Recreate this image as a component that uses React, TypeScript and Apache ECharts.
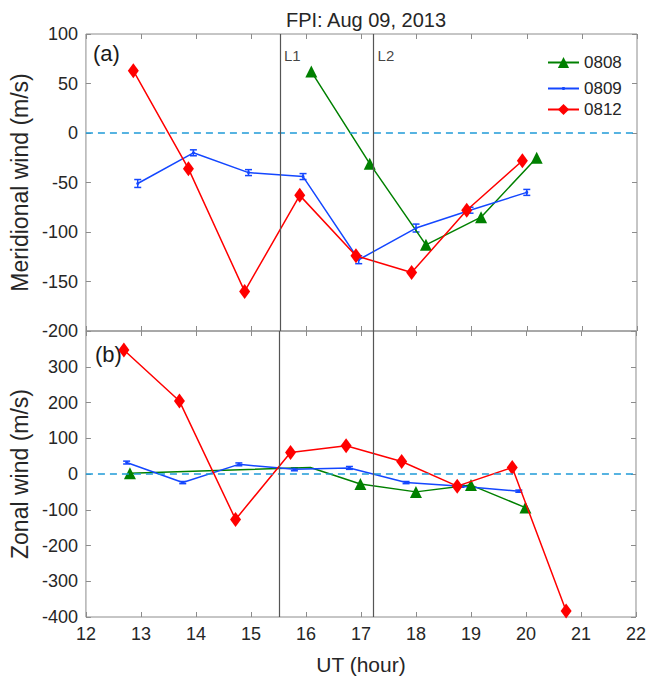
import React, { useEffect, useRef } from "react";
import * as echarts from "echarts";

// ---- Data ----
const xTicks = [12, 13, 14, 15, 16, 17, 18, 19, 20, 21, 22];
const L1 = 15.52;
const L2 = 17.22;

// (a) Meridional wind
const merX0808 = [16.09, 17.15, 18.17, 19.17, 20.18];
const mer0808 = [62, -31, -113, -85, -25];
const merX0809 = [12.94, 13.95, 14.95, 15.94, 16.95, 17.99, 18.97, 20.0];
const mer0809 = [-51, -20, -40, -44, -128, -96, -78, -60];
const merErr0809 = [4, 3, 3, 3, 4, 4, 3, 3];
const merX0812 = [12.86, 13.86, 14.88, 15.88, 16.9, 17.91, 18.91, 19.92];
const mer0812 = [63, -36, -160, -63, -124, -141, -78, -28];

// (b) Zonal wind
const zonX0808 = [12.8, 16.08, 16.99, 18.0, 19.0, 19.99];
const zon0808 = [2, 18, -28, -50, -31, -94];
const zonX0809 = [12.74, 13.76, 14.78, 15.79, 16.79, 17.82, 18.82, 19.87];
const zon0809 = [32, -24, 27, 13, 17, -24, -34, -48];
const zonErr0809 = [4, 3, 4, 4, 4, 3, 3, 3];
const zonX0812 = [12.69, 13.7, 14.72, 15.72, 16.73, 17.74, 18.75, 19.75, 20.73];
const zon0812 = [347, 204, -127, 60, 79, 35, -34, 18, -383];

const names = ["0808", "0809", "0812"];

const GREEN = "#008000";
const BLUE = "#1447ff";
const RED = "#ff0000";
const AXIS = "#8c8c8c";
const TXT = "#262626";
const FONT = "'Liberation Sans', Arial, sans-serif";

const zip = (xs: number[], ys: number[]) => xs.map((x, i) => [x, ys[i]]);
const zip3 = (xs: number[], ys: number[], es: number[]) =>
  xs.map((x, i) => [x, ys[i], es[i]]);

function errRender(color: string) {
  return (params: any, api: any) => {
    const x = api.value(0);
    const y = api.value(1);
    const e = api.value(2);
    const lo = api.coord([x, y - e]);
    const hi = api.coord([x, y + e]);
    const w = 3.5;
    const st = { stroke: color, lineWidth: 1.5 };
    return {
      type: "group",
      children: [
        { type: "line", shape: { x1: lo[0], y1: lo[1], x2: hi[0], y2: hi[1] }, style: st },
        { type: "line", shape: { x1: lo[0] - w, y1: lo[1], x2: lo[0] + w, y2: lo[1] }, style: st },
        { type: "line", shape: { x1: hi[0] - w, y1: hi[1], x2: hi[0] + w, y2: hi[1] }, style: st },
      ],
    };
  };
}

export default function App() {
  const ref = useRef<HTMLDivElement>(null);
  useEffect(() => {
    if (!ref.current) return;
    const chart = echarts.init(ref.current, undefined, { renderer: "svg" });

    const mkX = (grid: number, pos: "bottom" | "top", labels: boolean) => ({
      type: "value",
      gridIndex: grid,
      position: pos,
      min: 12,
      max: 22,
      interval: 1,
      axisLine: { show: false, onZero: false },
      axisTick: { show: true, inside: true, length: 5, lineStyle: { color: AXIS } },
      axisLabel: {
        show: labels,
        color: TXT,
        fontSize: 18,
        fontFamily: FONT,
        margin: 8,
      },
      splitLine: { show: false },
      ...(labels
        ? {
            name: "UT (hour)",
            nameLocation: "middle",
            nameGap: 37,
            nameTextStyle: { color: TXT, fontSize: 21, fontFamily: FONT },
          }
        : {}),
    });

    const mkY = (
      grid: number,
      pos: "left" | "right",
      min: number,
      max: number,
      interval: number,
      name: string | null,
      hideMax: boolean
    ) => ({
      type: "value",
      gridIndex: grid,
      position: pos,
      min,
      max,
      interval,
      axisLine: { show: false, onZero: false },
      axisTick: { show: true, inside: true, length: 5, lineStyle: { color: AXIS } },
      axisLabel: {
        show: pos === "left",
        color: TXT,
        fontSize: 18,
        fontFamily: FONT,
        margin: 8,
        showMaxLabel: !hideMax,
      },
      splitLine: { show: false },
      ...(name
        ? {
            name,
            nameLocation: "middle",
            nameGap: 50,
            nameTextStyle: { color: TXT, fontSize: 23, fontFamily: FONT },
          }
        : {}),
    });

    const refLines = (yVal: number) => ({
      silent: true,
      symbol: "none",
      label: { show: false },
      data: [
        { yAxis: yVal, lineStyle: { color: "#1f9bd8", type: [7, 5], width: 1.5 } },
        { xAxis: L1, lineStyle: { color: "#555555", type: "solid", width: 1.2 } },
        { xAxis: L2, lineStyle: { color: "#555555", type: "solid", width: 1.2 } },
      ],
    });

    const lineSeries = (
      name: string,
      grid: number,
      data: any[],
      color: string,
      symbol: string,
      size: any,
      extra: any = {}
    ) => ({
      type: "line",
      name,
      xAxisIndex: grid === 0 ? 0 : 2,
      yAxisIndex: grid === 0 ? 0 : 2,
      data,
      symbol,
      symbolSize: size,
      showAllSymbol: true,
      lineStyle: { color, width: 1.5 },
      itemStyle: { color },
      emphasis: { disabled: true },
      ...extra,
    });

    const zon0808Data = zip(zonX0808, zon0808).map((d, i) =>
      i === 1 ? { value: d, symbol: "none" } : d
    );

    const mkLegend = (name: string, top: number, ih: number) => ({
      data: [name],
      orient: "vertical",
      left: 542,
      top,
      itemWidth: 31,
      itemHeight: ih,
      textStyle: { color: TXT, fontSize: 17, fontFamily: FONT },
      selectedMode: false,
    });

    const option: any = {
      animation: false,
      backgroundColor: "#ffffff",
      textStyle: { fontFamily: FONT },
      title: {
        text: "FPI: Aug 09, 2013",
        left: 361,
        top: 5,
        textAlign: "center",
        textStyle: { color: TXT, fontSize: 20, fontWeight: "normal", fontFamily: FONT },
      },
      legend: [mkLegend("0808", 49, 14), mkLegend("0809", 75, 4), mkLegend("0812", 96, 14)],
      grid: [
        { show: true, borderColor: AXIS, borderWidth: 1, left: 85, top: 34, width: 552, height: 297, containLabel: false },
        { show: true, borderColor: AXIS, borderWidth: 1, left: 85, top: 331, width: 552, height: 286, containLabel: false },
      ],
      xAxis: [mkX(0, "bottom", false), mkX(0, "top", false), mkX(1, "bottom", true), mkX(1, "top", false)],
      yAxis: [
        mkY(0, "left", -200, 100, 50, "Meridional wind (m/s)", false),
        mkY(0, "right", -200, 100, 50, null, false),
        mkY(1, "left", -400, 400, 100, "Zonal wind (m/s)", true),
        mkY(1, "right", -400, 400, 100, null, false),
      ],
      graphic: [
        {
          type: "text",
          left: 93,
          top: 42,
          style: { text: "(a)", fill: "#1a1a1a", font: `22px ${FONT}` },
        },
        {
          type: "text",
          left: 95,
          top: 343,
          style: { text: "(b)", fill: "#1a1a1a", font: `22px ${FONT}` },
        },
      ],
      series: [
        // panel (a)
        lineSeries("0808", 0, zip(merX0808, mer0808), GREEN, "triangle", 12, {
          markLine: refLines(0),
        }),
        lineSeries("0809", 0, zip(merX0809, mer0809), BLUE, "circle", 3),
        {
          type: "custom",
          name: "0809err",
          xAxisIndex: 0,
          yAxisIndex: 0,
          data: zip3(merX0809, mer0809, merErr0809),
          encode: { x: 0, y: 1 },
          renderItem: errRender(BLUE),
          z: 3,
        },
        lineSeries("0812", 0, zip(merX0812, mer0812), RED, "diamond", [11, 15], { z: 4 }),
        // panel (b)
        lineSeries("0808", 1, zon0808Data, GREEN, "triangle", 12, {
          markLine: refLines(0),
        }),
        lineSeries("0809", 1, zip(zonX0809, zon0809), BLUE, "circle", 3),
        {
          type: "custom",
          name: "0809err",
          xAxisIndex: 2,
          yAxisIndex: 2,
          data: zip3(zonX0809, zon0809, zonErr0809),
          encode: { x: 0, y: 1 },
          renderItem: errRender(BLUE),
          z: 3,
        },
        lineSeries("0812", 1, zip(zonX0812, zon0812), RED, "diamond", [11, 15], { z: 4 }),
        // L1 / L2 labels
        {
          type: "scatter",
          name: "Llabels",
          xAxisIndex: 0,
          yAxisIndex: 0,
          symbolSize: 0,
          data: [
            { value: [L1, 78], label: { formatter: "L1" } },
            { value: [L2, 78], label: { formatter: "L2" } },
          ],
          label: {
            show: true,
            position: "right",
            distance: 4,
            color: "#111111",
            fontSize: 15,
            fontFamily: FONT,
          },
          silent: true,
        },
      ],
    };
    chart.setOption(option);
    return () => chart.dispose();
  }, []);
  return (
    <div
      ref={ref}
      style={{ position: "fixed", left: 0, top: 0, width: 649, height: 679, background: "#fff" }}
    />
  );
}
